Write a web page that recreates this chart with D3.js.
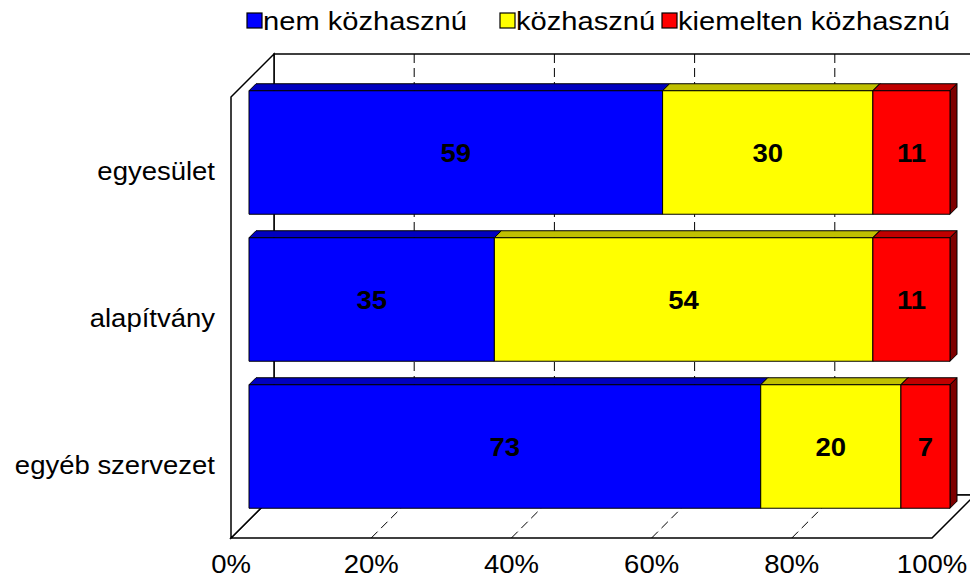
<!DOCTYPE html>
<html>
<head>
<meta charset="utf-8">
<script src="https://cdn.jsdelivr.net/npm/d3@7"></script>
<style>
  body { margin: 0; background: #fff; }
  svg text { font-family: "Liberation Sans", Arial, sans-serif; fill: #000; }
</style>
</head>
<body>
<svg id="chart" width="970" height="579"></svg>
<script>
// categories (top to bottom) and series
const categories = ["egyesület", "alapítvány", "egyéb szervezet"];
const seriesNames = ["nem közhasznú", "közhasznú", "kiemelten közhasznú"];
const nemKozhasznu = [59, 35, 73];
const kozhasznu = [30, 54, 20];
const kiemelten = [11, 11, 7];
const seriesColors = ["#0000ff", "#ffff00", "#ff0000"];
const tickValues = [0, 20, 40, 60, 80, 100];

// layout of the 3D box (front plane + depth offset)
const front = { left: 231, right: 932, top: 97, bottom: 538 };
const depth = 43;           // wall depth, in px (goes up/right)
const barDepth = [18, 25];  // bar front/back inside the depth
const stretch = 1.1;        // text is drawn a bit wide, like the original

const svg = d3.select("#chart");

const xScale = d3.scaleLinear().domain([0, 100]).range([front.left, front.right]);
const yScale = d3.scaleBand()
  .domain(categories)
  .range([front.top, front.bottom])
  .paddingInner(0.16)
  .paddingOuter(0.08);

// project a plane point to screen with depth t
const P = (x, y, t) => [x + t, y - t];
const poly = (pts) => pts.map((p) => p.join(",")).join(" ");

// stacked data
const rows = categories.map((c, i) => ({
  cat: c,
  values: [nemKozhasznu[i], kozhasznu[i], kiemelten[i]]
}));

// helper for stretched text
function stretchedText(g, x, y, txt, size, anchor, weight, sx) {
  return g.append("text")
    .attr("transform", `translate(${x},${y}) scale(${sx || stretch},1)`)
    .attr("text-anchor", anchor)
    .attr("font-size", size)
    .attr("font-weight", weight || "normal")
    .text(txt);
}

// ---- walls ----
const walls = svg.append("g").attr("class", "walls");
const bl = P(front.left, front.bottom, depth);
const br = P(front.right, front.bottom, depth);
const tl = P(front.left, front.top, depth);

// back wall
walls.append("polygon")
  .attr("points", poly([tl, [br[0], tl[1]], br, bl]))
  .attr("fill", "#fff").attr("stroke", "#000").attr("stroke-width", 1.5);
// floor
walls.append("polygon")
  .attr("points", poly([[front.left, front.bottom], [front.right, front.bottom], br, bl]))
  .attr("fill", "#fff").attr("stroke", "#000").attr("stroke-width", 1.5);
// left wall
walls.append("polygon")
  .attr("points", poly([[front.left, front.top], tl, bl, [front.left, front.bottom]]))
  .attr("fill", "#fff").attr("stroke", "#000").attr("stroke-width", 1.5);

// gridlines on back wall and floor
const grid = tickValues.filter((v) => v > 0 && v < 100);
walls.selectAll(".grid-back")
  .data(grid)
  .enter()
  .append("line")
  .attr("class", "grid-back")
  .attr("x1", (d) => xScale(d) + depth)
  .attr("x2", (d) => xScale(d) + depth)
  .attr("y1", front.top - depth)
  .attr("y2", front.bottom - depth)
  .attr("stroke", "#000")
  .attr("stroke-width", 1)
  .attr("stroke-dasharray", "9,5");

walls.selectAll(".grid-floor")
  .data(grid)
  .enter()
  .append("line")
  .attr("class", "grid-floor")
  .attr("x1", (d) => xScale(d))
  .attr("y1", front.bottom)
  .attr("x2", (d) => xScale(d) + depth)
  .attr("y2", front.bottom - depth)
  .attr("stroke", "#000")
  .attr("stroke-width", 1)
  .attr("stroke-dasharray", "9,5");

// ---- bars ----
const barG = svg.append("g").attr("class", "bars");
const [t0, t1] = barDepth;
const dd = t1 - t0;

rows.forEach((row) => {
  const y0 = yScale(row.cat);
  const y1 = y0 + yScale.bandwidth();
  let acc = 0;
  row.values.forEach((v, s) => {
    const xa = xScale(acc);
    const xb = xScale(acc + v);
    acc += v;
    const base = d3.color(seriesColors[s]);
    const fa = P(xa, y0, t0), fb = P(xb, y0, t0);
    const fc = P(xb, y1, t0), fd = P(xa, y1, t0);
    const g = barG.append("g");
    // top face
    g.append("polygon")
      .attr("points", poly([fa, fb, [fb[0] + dd, fb[1] - dd], [fa[0] + dd, fa[1] - dd]]))
      .attr("fill", base.darker(0.8))
      .attr("stroke", "#000").attr("stroke-width", 1);
    // right side
    g.append("polygon")
      .attr("points", poly([fb, [fb[0] + dd, fb[1] - dd], [fc[0] + dd, fc[1] - dd], fc]))
      .attr("fill", base.darker(2))
      .attr("stroke", "#000").attr("stroke-width", 1);
    // front face
    g.append("polygon")
      .attr("points", poly([fa, fb, fc, fd]))
      .attr("fill", base)
      .attr("stroke", "#000").attr("stroke-width", 1);
    // value label
    stretchedText(barG, (fa[0] + fb[0]) / 2, (fa[1] + fd[1]) / 2 + 9, v, 25, "middle", "bold");
  });
});

// ---- category labels ----
const catG = svg.append("g").attr("class", "cat-labels");
categories.forEach((c) => {
  stretchedText(catG, 215, yScale(c) + yScale.bandwidth() / 2 + 9, c, 25, "end");
});

// ---- x axis tick labels ----
const axG = svg.append("g").attr("class", "x-ticks");
tickValues.forEach((v) => {
  stretchedText(axG, xScale(v), 573, v + "%", 25, "middle");
});

// ---- legend ----
const legendX = [247, 500, 662];
const legend = svg.append("g").attr("class", "legend");
seriesNames.forEach((name, i) => {
  legend.append("rect")
    .attr("x", legendX[i]).attr("y", 13)
    .attr("width", 15).attr("height", 15)
    .attr("fill", seriesColors[i])
    .attr("stroke", "#000").attr("stroke-width", 1.2);
  stretchedText(legend, legendX[i] + 16, 30, name, 26, "start", "normal", 1.12);
});
</script>
</body>
</html>
